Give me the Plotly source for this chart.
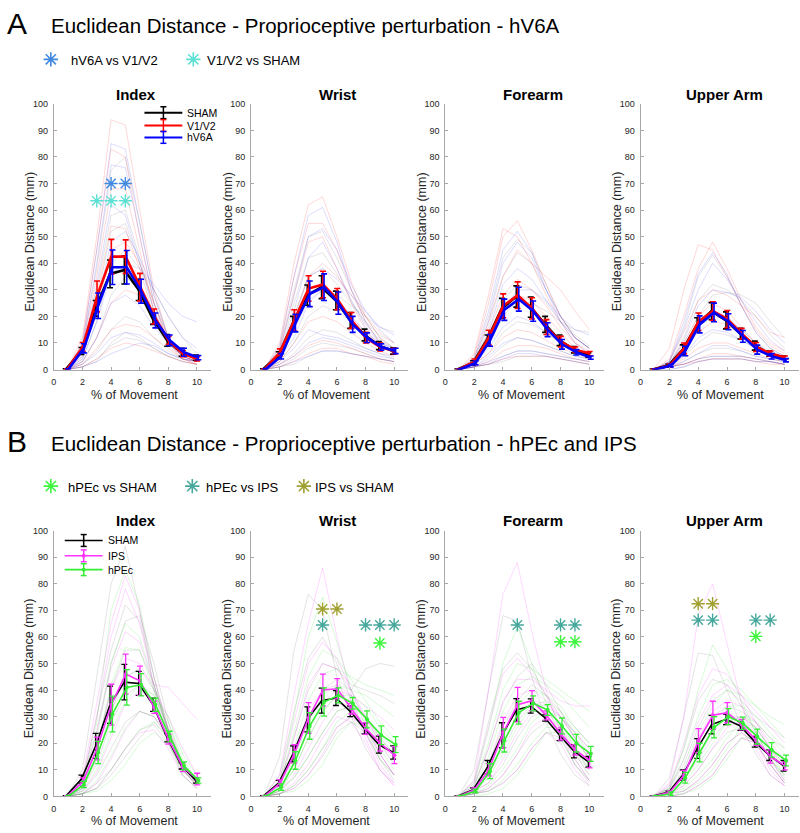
import plotly.graph_objects as go

W, H = 800, 833


def px(x):
    return x / W


def py(y):
    return 1 - y / H


# ---------------- data ----------------
x_pct = [0.9, 2, 3, 4, 5, 6, 7, 8, 9, 10]
x_tickvals = [0, 2, 4, 6, 8, 10]
y_tickvals = [0, 10, 20, 30, 40, 50, 60, 70, 80, 90, 100]
segments = ["Index", "Wrist", "Forearm", "Upper Arm"]
groups_A = ["SHAM", "V1/V2", "hV6A"]
groups_B = ["SHAM", "IPS", "hPEc"]

# ---- Panel A means / SEM ----
A_index_sham_mean = [0, 7, 23, 36, 37.5, 30, 19, 11, 6.5, 4.5]
A_index_sham_sem = [0.3, 1.3, 3, 5.2, 5.3, 4, 2, 2.2, 1.5, 1]
A_index_v1v2_mean = [0, 8.5, 27.5, 42.5, 42.5, 31, 20, 11, 6, 4]
A_index_v1v2_sem = [0.3, 1.7, 5.8, 6.5, 6.3, 5.2, 2.8, 1.5, 1.2, 0.8]
A_index_hv6a_mean = [0, 8, 24, 38.5, 38.5, 29.5, 18.5, 11, 6.5, 4.5]
A_index_hv6a_sem = [0.3, 1.7, 4.8, 6.5, 6.3, 4.5, 2.8, 2, 1.5, 0.8]

A_wrist_sham_mean = [0, 5.5, 17.5, 28, 31, 26, 18.5, 13, 9, 7]
A_wrist_sham_sem = [0.3, 1.2, 2.5, 3.8, 4.3, 3.5, 3, 2.2, 1.5, 1.2]
A_wrist_v1v2_mean = [0, 6.5, 18.5, 30.5, 32, 26.5, 18.5, 12, 8.5, 7]
A_wrist_v1v2_sem = [0.3, 1.3, 4, 4.8, 5, 4, 3, 2, 1.5, 1]
A_wrist_hv6a_mean = [0, 5, 17.5, 28.5, 31, 25, 17, 12, 8.5, 7]
A_wrist_hv6a_sem = [0.3, 1, 3.3, 4.8, 5, 4.2, 3, 1.8, 1.2, 1]

A_forearm_sham_mean = [0, 2.5, 11.5, 23, 27.5, 23.5, 17, 11, 7.5, 5.5]
A_forearm_sham_sem = [0.2, 0.8, 1.5, 3.8, 4, 3.8, 3, 2, 1.2, 0.8]
A_forearm_v1v2_mean = [0, 3, 12, 24, 28, 23, 16, 10.5, 7.5, 6]
A_forearm_v1v2_sem = [0.2, 1, 2.8, 4.5, 5, 4, 2.8, 2, 1, 0.8]
A_forearm_hv6a_mean = [0, 2.5, 11, 22.5, 26.5, 22, 15, 9.5, 6.5, 4.5]
A_forearm_hv6a_sem = [0.2, 0.7, 2.2, 4, 4.5, 3.8, 2.6, 1.8, 1, 0.6]

A_upper_sham_mean = [0, 1.5, 7.5, 17, 22, 18.5, 13.5, 9, 6, 4.5]
A_upper_sham_sem = [0.2, 0.5, 1.8, 2.5, 3.2, 3.2, 2, 1.7, 1, 0.6]
A_upper_v1v2_mean = [0, 1.5, 8, 18, 22, 19, 13.5, 8.5, 6, 4.5]
A_upper_v1v2_sem = [0.2, 0.6, 2, 3.3, 3.5, 3.2, 2, 1.7, 1, 0.6]
A_upper_hv6a_mean = [0, 1.5, 7, 17, 21.5, 18, 12.5, 7.5, 5, 3.5]
A_upper_hv6a_sem = [0.2, 0.5, 1.8, 3.2, 3.5, 3, 2.2, 1.7, 1, 0.6]

# ---- Panel B means / SEM ----
B_index_sham_mean = [0, 6.5, 19, 34.5, 43, 42.5, 34.5, 22, 11.5, 6]
B_index_sham_sem = [0.3, 1.5, 4.7, 7, 6.7, 4.5, 2.5, 1.5, 1.2, 1]
B_index_ips_mean = [0, 5.5, 18, 34.5, 46, 43.5, 33.5, 21.5, 11, 6.5]
B_index_ips_sem = [0.3, 1.5, 4.3, 7.7, 7.5, 5.5, 2.3, 1.8, 1.7, 2.2]
B_index_hpec_mean = [0, 4.5, 16.5, 31, 41, 42, 34.5, 22.5, 11.5, 6]
B_index_hpec_sem = [0.3, 1.2, 4.2, 6.7, 6.7, 4.2, 2.5, 2, 1.5, 1]

B_wrist_sham_mean = [0, 5, 16, 29, 36, 37, 32, 25.5, 19.5, 16.5]
B_wrist_sham_sem = [0.3, 1, 3, 4.7, 4.7, 2.8, 2, 2, 3.2, 2.5]
B_wrist_ips_mean = [0, 5, 16, 29.5, 40, 40.5, 33, 25.5, 20, 15.5]
B_wrist_ips_sem = [0.3, 1.2, 3.5, 5.8, 6, 3.8, 2, 2.2, 3, 3.2]
B_wrist_hpec_mean = [0, 3.5, 13.5, 26.5, 35.5, 38, 35, 29, 23, 19.5]
B_wrist_hpec_sem = [0.3, 1.2, 3.3, 5, 5.3, 2.8, 2.2, 3.2, 3.5, 3]

B_forearm_sham_mean = [0, 2.5, 11, 23, 32.5, 34, 29.5, 23, 17, 13]
B_forearm_sham_sem = [0.2, 0.7, 2.5, 4.7, 4.3, 2.7, 1.2, 2, 2.5, 2]
B_forearm_ips_mean = [0, 2.5, 10, 24, 34.5, 36, 30.5, 23.5, 17.5, 13.5]
B_forearm_ips_sem = [0.2, 0.7, 2.3, 5.7, 6.5, 3.8, 1.7, 2.3, 2, 2.8]
B_forearm_hpec_mean = [0, 2, 9.5, 21, 31.5, 35, 32.5, 26.5, 20, 16]
B_forearm_hpec_sem = [0.2, 0.7, 2.8, 4.3, 4.3, 2.8, 2, 3, 3.3, 2.8]

B_upper_sham_mean = [0, 1.5, 8, 18, 27, 29, 26.5, 20.5, 15.5, 11.5]
B_upper_sham_sem = [0.2, 0.5, 2, 3.7, 3.5, 2, 1.7, 2, 2, 2]
B_upper_ips_mean = [0, 1.5, 8, 21, 30.5, 31.5, 27, 21, 15, 11.5]
B_upper_ips_sem = [0.2, 0.5, 1.8, 4.5, 5.3, 3.8, 2, 1.8, 2.5, 1.5]
B_upper_hpec_mean = [0, 1, 7, 16.5, 26, 30, 27.5, 22.5, 17.5, 13.5]
B_upper_hpec_sem = [0.2, 0.7, 2, 3.5, 4, 3, 2.3, 2.8, 2.7, 2]

# ---- individual participants (faint lines) ----
A_index_sham_subj = [
    [0, 9, 38, 75, 80, 55, 28, 12, 6, 4], [0, 7, 30, 58, 60, 42, 22, 10, 5, 3],
    [0, 6, 26, 52, 55, 40, 25, 12, 6, 4], [0, 4, 18, 40, 45, 38, 30, 20, 12, 6],
    [0, 3, 12, 28, 35, 30, 20, 12, 7, 4], [0, 2, 7, 15, 20, 18, 12, 7, 4, 3],
    [0, 1, 4, 9, 12, 11, 8, 5, 3, 2], [0, 1, 3, 10, 14, 12, 8, 5, 3, 2]]
A_index_v1v2_subj = [
    [0, 12, 50, 94, 92, 60, 30, 12, 5, 3], [0, 10, 45, 83, 80, 50, 25, 10, 4, 2],
    [0, 8, 35, 68, 68, 45, 22, 10, 5, 3], [0, 6, 28, 54, 53, 38, 20, 9, 4, 3],
    [0, 5, 22, 45, 48, 40, 25, 12, 6, 4], [0, 3, 12, 25, 30, 28, 20, 10, 5, 3],
    [0, 2, 8, 15, 17, 16, 12, 8, 4, 2], [0, 1, 4, 8, 10, 9, 7, 5, 3, 2]]
A_index_hv6a_subj = [
    [0, 10, 45, 85, 83, 55, 28, 12, 6, 4], [0, 8, 40, 77, 76, 50, 25, 10, 5, 3],
    [0, 7, 32, 62, 58, 40, 22, 10, 5, 3], [0, 5, 24, 48, 52, 42, 30, 20, 12, 8],
    [0, 4, 18, 36, 40, 38, 32, 25, 20, 18], [0, 3, 12, 25, 28, 24, 16, 10, 6, 4],
    [0, 2, 6, 12, 14, 13, 10, 6, 4, 3], [0, 1, 3, 6, 8, 10, 9, 6, 4, 3]]

A_wrist_sham_subj = [
    [0, 8, 30, 50, 52, 42, 30, 20, 12, 8], [0, 6, 25, 42, 44, 36, 26, 17, 11, 8],
    [0, 5, 20, 35, 38, 32, 25, 18, 13, 10], [0, 4, 15, 26, 30, 28, 24, 20, 16, 14],
    [0, 3, 10, 20, 24, 22, 18, 13, 9, 7], [0, 2, 6, 12, 15, 14, 11, 8, 6, 4],
    [0, 1, 4, 8, 10, 9, 8, 6, 4, 3], [0, 1, 2, 5, 7, 7, 6, 5, 4, 3]]
A_wrist_v1v2_subj = [
    [0, 10, 40, 62, 65, 50, 33, 20, 12, 8], [0, 8, 35, 55, 55, 45, 30, 18, 10, 6],
    [0, 7, 28, 48, 50, 38, 25, 15, 9, 6], [0, 5, 20, 35, 40, 35, 28, 20, 14, 10],
    [0, 4, 15, 28, 30, 26, 20, 14, 9, 7], [0, 3, 10, 18, 20, 18, 14, 10, 7, 5],
    [0, 2, 5, 9, 11, 10, 8, 6, 4, 3], [0, 1, 3, 6, 8, 8, 6, 5, 3, 2]]
A_wrist_hv6a_subj = [
    [0, 9, 35, 58, 61, 48, 30, 18, 10, 7], [0, 7, 28, 50, 53, 45, 32, 22, 15, 10],
    [0, 6, 22, 42, 48, 38, 26, 16, 10, 8], [0, 5, 18, 35, 38, 34, 28, 22, 16, 13],
    [0, 4, 12, 25, 30, 27, 20, 14, 10, 8], [0, 3, 8, 15, 13, 12, 10, 8, 6, 5],
    [0, 2, 5, 10, 12, 11, 9, 7, 5, 4], [0, 1, 3, 5, 7, 7, 6, 5, 4, 3]]

A_forearm_sham_subj = [
    [0, 4, 20, 42, 49, 44, 32, 20, 12, 8], [0, 3, 16, 35, 44, 40, 30, 20, 13, 9],
    [0, 3, 12, 26, 32, 30, 25, 18, 12, 8], [0, 2, 9, 20, 26, 25, 22, 18, 15, 14],
    [0, 2, 6, 14, 18, 17, 14, 10, 7, 5], [0, 1, 4, 9, 12, 11, 9, 7, 5, 4],
    [0, 1, 2, 5, 7, 7, 6, 5, 4, 3], [0, 1, 2, 3, 5, 5, 5, 4, 3, 2]]
A_forearm_v1v2_subj = [
    [0, 5, 25, 50, 56, 45, 32, 20, 12, 8], [0, 6, 28, 53, 50, 40, 28, 18, 10, 6],
    [0, 4, 18, 35, 45, 40, 35, 30, 22, 15], [0, 3, 14, 28, 34, 30, 24, 16, 10, 7],
    [0, 2, 10, 22, 28, 26, 20, 14, 8, 6], [0, 2, 6, 12, 15, 14, 11, 8, 6, 4],
    [0, 1, 3, 7, 9, 9, 8, 6, 4, 3], [0, 1, 2, 4, 5, 5, 5, 4, 3, 2]]
A_forearm_hv6a_subj = [
    [0, 4, 22, 45, 52, 44, 30, 18, 10, 6], [0, 3, 18, 40, 48, 42, 30, 20, 12, 8],
    [0, 3, 14, 32, 38, 34, 26, 18, 12, 8], [0, 2, 10, 22, 30, 30, 26, 20, 15, 13],
    [0, 2, 8, 16, 20, 18, 14, 10, 7, 5], [0, 1, 5, 10, 12, 11, 9, 7, 5, 4],
    [0, 1, 3, 5, 7, 7, 6, 5, 4, 3], [0, 1, 2, 4, 6, 6, 5, 4, 3, 2]]

A_upper_sham_subj = [
    [0, 3, 16, 35, 43, 35, 24, 14, 8, 5], [0, 2, 12, 26, 32, 30, 26, 20, 13, 8],
    [0, 2, 10, 20, 28, 29, 28, 25, 18, 12], [0, 2, 8, 16, 20, 19, 15, 10, 7, 5],
    [0, 1, 5, 10, 14, 13, 11, 8, 5, 4], [0, 1, 3, 6, 8, 8, 7, 5, 4, 3],
    [0, 1, 2, 4, 5, 5, 5, 4, 3, 2], [0, 0, 1, 3, 4, 4, 4, 3, 3, 2]]
A_upper_v1v2_subj = [
    [0, 8, 30, 47, 45, 35, 24, 15, 9, 6], [0, 4, 20, 38, 48, 38, 26, 16, 10, 7],
    [0, 3, 14, 26, 30, 28, 24, 20, 14, 12], [0, 2, 10, 20, 25, 22, 16, 10, 6, 4],
    [0, 2, 7, 14, 18, 17, 13, 9, 6, 4], [0, 1, 4, 8, 10, 10, 8, 6, 4, 3],
    [0, 1, 2, 4, 6, 6, 5, 4, 3, 2], [0, 1, 2, 3, 4, 4, 4, 3, 2, 2]]
A_upper_hv6a_subj = [
    [0, 3, 18, 36, 44, 36, 24, 14, 8, 5], [0, 3, 15, 30, 40, 34, 26, 18, 11, 7],
    [0, 2, 11, 24, 30, 29, 27, 22, 15, 10], [0, 2, 8, 17, 22, 20, 15, 10, 6, 4],
    [0, 1, 5, 12, 15, 14, 11, 8, 5, 4], [0, 1, 3, 6, 9, 9, 7, 5, 4, 3],
    [0, 1, 2, 4, 5, 5, 5, 4, 3, 2], [0, 0, 1, 3, 4, 4, 4, 3, 3, 2]]

B_index_sham_subj = [
    [0, 10, 45, 80, 94, 70, 40, 20, 8, 3], [0, 6, 30, 55, 72, 66, 45, 25, 10, 4],
    [0, 5, 25, 50, 66, 68, 50, 28, 12, 5], [0, 4, 18, 40, 55, 55, 42, 25, 11, 5],
    [0, 3, 12, 28, 38, 42, 38, 26, 12, 5], [0, 2, 8, 18, 28, 32, 30, 22, 12, 6],
    [0, 1, 5, 10, 18, 25, 27, 20, 10, 5], [0, 1, 3, 8, 15, 22, 28, 22, 12, 6]]
B_index_ips_subj = [
    [0, 7, 35, 65, 83, 70, 45, 25, 10, 4], [0, 6, 30, 60, 78, 65, 42, 22, 10, 5],
    [0, 5, 24, 48, 62, 58, 42, 25, 12, 5], [0, 4, 18, 40, 52, 50, 40, 30, 18, 8],
    [0, 3, 14, 32, 45, 48, 42, 41, 35, 29], [0, 2, 9, 22, 35, 40, 36, 25, 12, 5],
    [0, 1, 5, 14, 25, 32, 30, 22, 10, 4], [0, 1, 3, 10, 18, 24, 25, 18, 8, 3]]
B_index_hpec_subj = [
    [0, 5, 28, 70, 85, 72, 45, 22, 8, 3], [0, 4, 22, 50, 65, 60, 42, 24, 10, 4],
    [0, 3, 18, 42, 56, 55, 40, 25, 12, 5], [0, 3, 14, 32, 45, 48, 40, 28, 14, 6],
    [0, 2, 10, 24, 36, 42, 38, 30, 16, 8], [0, 1, 6, 15, 26, 32, 30, 24, 12, 6],
    [0, 1, 3, 10, 18, 25, 28, 22, 12, 5], [0, 1, 2, 6, 12, 20, 24, 20, 10, 5]]

B_wrist_sham_subj = [
    [0, 15, 55, 76, 70, 45, 30, 18, 10, 5], [0, 8, 32, 52, 60, 50, 36, 24, 14, 8],
    [0, 5, 22, 40, 50, 48, 42, 40, 38, 35], [0, 4, 15, 30, 40, 44, 40, 48, 50, 49],
    [0, 3, 10, 22, 32, 38, 36, 30, 22, 16], [0, 2, 7, 15, 24, 32, 34, 30, 24, 18],
    [0, 1, 4, 10, 18, 26, 30, 26, 16, 8], [0, 1, 3, 8, 15, 24, 28, 24, 14, 6]]
B_wrist_ips_subj = [
    [0, 8, 38, 65, 86, 60, 38, 22, 10, 4], [0, 6, 28, 50, 58, 52, 40, 28, 16, 8],
    [0, 5, 22, 42, 50, 48, 40, 30, 20, 12], [0, 4, 16, 32, 40, 42, 38, 34, 30, 25],
    [0, 3, 12, 25, 35, 40, 38, 30, 20, 14], [0, 2, 8, 18, 28, 35, 34, 26, 16, 8],
    [0, 1, 5, 12, 22, 30, 28, 20, 10, 4], [0, 1, 3, 8, 16, 26, 30, 24, 12, 5]]
B_wrist_hpec_subj = [
    [0, 6, 30, 60, 75, 58, 40, 26, 14, 8], [0, 5, 24, 45, 55, 52, 44, 36, 28, 22],
    [0, 4, 18, 36, 46, 48, 45, 42, 40, 38], [0, 3, 14, 28, 38, 42, 40, 38, 34, 30],
    [0, 2, 10, 22, 32, 38, 38, 34, 26, 20], [0, 2, 7, 15, 24, 32, 34, 30, 22, 16],
    [0, 1, 4, 10, 18, 28, 32, 28, 20, 12], [0, 1, 2, 6, 12, 22, 28, 26, 18, 10]]

B_forearm_sham_subj = [
    [0, 10, 40, 68, 66, 45, 28, 16, 8, 4], [0, 6, 28, 48, 54, 48, 38, 26, 16, 10],
    [0, 4, 18, 35, 45, 50, 42, 32, 22, 14], [0, 3, 12, 26, 36, 42, 38, 32, 26, 20],
    [0, 2, 8, 18, 28, 35, 34, 30, 24, 18], [0, 2, 5, 12, 22, 30, 32, 28, 18, 10],
    [0, 1, 3, 8, 16, 24, 28, 24, 14, 6], [0, 1, 2, 5, 10, 18, 24, 22, 12, 5]]
B_forearm_ips_subj = [
    [0, 6, 40, 76, 88, 62, 40, 24, 12, 6], [0, 5, 26, 46, 52, 46, 38, 30, 22, 16],
    [0, 4, 18, 36, 44, 44, 40, 36, 34, 34], [0, 3, 12, 28, 38, 40, 36, 30, 24, 18],
    [0, 2, 8, 20, 30, 36, 35, 30, 22, 14], [0, 2, 5, 14, 24, 32, 32, 26, 16, 8],
    [0, 1, 3, 8, 16, 26, 30, 26, 14, 6], [0, 1, 2, 5, 10, 18, 24, 20, 10, 4]]
B_forearm_hpec_subj = [
    [0, 5, 25, 50, 64, 50, 35, 22, 12, 6], [0, 4, 20, 40, 50, 48, 44, 40, 36, 32],
    [0, 3, 15, 32, 42, 45, 42, 38, 32, 26], [0, 2, 10, 24, 34, 40, 38, 34, 26, 20],
    [0, 2, 7, 16, 26, 34, 36, 32, 24, 16], [0, 1, 4, 10, 18, 28, 32, 30, 22, 14],
    [0, 1, 2, 6, 12, 20, 26, 26, 18, 10], [0, 0, 1, 3, 8, 16, 24, 24, 16, 8]]

B_upper_sham_subj = [
    [0, 7, 30, 54, 53, 40, 26, 16, 8, 4], [0, 4, 18, 36, 44, 42, 34, 24, 14, 8],
    [0, 3, 12, 26, 36, 40, 36, 30, 26, 22], [0, 2, 9, 20, 30, 34, 32, 28, 22, 18],
    [0, 2, 6, 14, 22, 28, 30, 26, 18, 12], [0, 1, 4, 10, 18, 24, 26, 22, 14, 6],
    [0, 1, 2, 6, 12, 20, 24, 20, 12, 5], [0, 0, 1, 4, 8, 16, 22, 20, 12, 5]]
B_upper_ips_subj = [
    [0, 5, 30, 68, 80, 58, 35, 18, 8, 4], [0, 4, 20, 38, 48, 46, 38, 28, 18, 12],
    [0, 3, 14, 28, 38, 42, 38, 32, 26, 20], [0, 2, 10, 22, 32, 36, 34, 28, 20, 14],
    [0, 2, 6, 15, 24, 30, 30, 26, 18, 10], [0, 1, 4, 10, 18, 26, 28, 24, 14, 6],
    [0, 1, 2, 6, 12, 20, 24, 20, 10, 4], [0, 0, 1, 4, 8, 16, 22, 20, 12, 5]]
B_upper_hpec_subj = [
    [0, 3, 18, 40, 57, 48, 36, 24, 14, 8], [0, 3, 14, 30, 42, 44, 40, 34, 30, 27],
    [0, 2, 10, 24, 34, 40, 38, 34, 28, 22], [0, 2, 8, 18, 28, 34, 34, 30, 24, 18],
    [0, 1, 5, 12, 20, 28, 30, 28, 22, 16], [0, 1, 3, 8, 14, 22, 28, 26, 18, 10],
    [0, 0, 2, 5, 10, 18, 26, 24, 16, 8], [0, 0, 1, 3, 7, 14, 22, 22, 14, 7]]

# ---- significance markers (x positions, y level) ----
A_index_sig_hv6a_v1v2_x = [4, 5]
A_index_sig_hv6a_v1v2_y = 70
A_index_sig_v1v2_sham_x = [3, 4, 5]
A_index_sig_v1v2_sham_y = 63.5

B_wrist_sig_ips_sham_x = [5, 6]
B_wrist_sig_ips_sham_y = 70.5
B_wrist_sig_hpec_ips_x = [5, 8, 9, 10]
B_wrist_sig_hpec_ips_y = 64.5
B_wrist_sig_hpec_sham_x = [9]
B_wrist_sig_hpec_sham_y = 57.7

B_forearm_sig_hpec_ips_x = [5, 8, 9]
B_forearm_sig_hpec_ips_y = 64.5
B_forearm_sig_hpec_sham_x = [8, 9]
B_forearm_sig_hpec_sham_y = 58.2

B_upper_sig_ips_sham_x = [4, 5]
B_upper_sig_ips_sham_y = 72.5
B_upper_sig_hpec_ips_x = [4, 5, 8, 9]
B_upper_sig_hpec_ips_y = 66.3
B_upper_sig_hpec_sham_x = [8]
B_upper_sig_hpec_sham_y = 60.2

# ---------------- styles ----------------
COL_A = {"SHAM": "#000000", "V1/V2": "#ff0000", "hV6A": "#0000ff"}
FAINT_A = {"SHAM": "rgba(40,40,60,0.16)", "V1/V2": "rgba(255,0,0,0.2)", "hV6A": "rgba(0,0,255,0.18)"}
COL_B = {"SHAM": "#000000", "IPS": "#ff33ff", "hPEc": "#33ee33"}
FAINT_B = {"SHAM": "rgba(40,40,40,0.16)", "IPS": "rgba(255,0,255,0.2)", "hPEc": "rgba(0,220,0,0.2)"}
SIG_COL = {
    "hV6A vs V1/V2": "#4189e0",
    "V1/V2 vs SHAM": "#5de0d4",
    "hPEc vs SHAM": "#3cf53c",
    "hPEc vs IPS": "#46a89c",
    "IPS vs SHAM": "#a0a030",
}
OFFS = [-0.07, 0.02, 0.1]
AXIS_COL = "#a8a8a8"
TXT_COL = "#262626"
FONT = "Liberation Sans, Arial, sans-serif"

cols_px = [(51, 209), (249, 407), (444, 603), (640, 799)]
rows_px = [(100, 369), (532, 801)]

panels = []
for r, (row, groups, colmap, faintmap) in enumerate([
    ("A", groups_A, COL_A, FAINT_A), ("B", groups_B, COL_B, FAINT_B)]):
    for c, seg in enumerate(segments):
        panels.append((r, c, seg, groups, colmap, faintmap))

data_A = {
    "Index": [(A_index_sham_mean, A_index_sham_sem, A_index_sham_subj),
              (A_index_v1v2_mean, A_index_v1v2_sem, A_index_v1v2_subj),
              (A_index_hv6a_mean, A_index_hv6a_sem, A_index_hv6a_subj)],
    "Wrist": [(A_wrist_sham_mean, A_wrist_sham_sem, A_wrist_sham_subj),
              (A_wrist_v1v2_mean, A_wrist_v1v2_sem, A_wrist_v1v2_subj),
              (A_wrist_hv6a_mean, A_wrist_hv6a_sem, A_wrist_hv6a_subj)],
    "Forearm": [(A_forearm_sham_mean, A_forearm_sham_sem, A_forearm_sham_subj),
                (A_forearm_v1v2_mean, A_forearm_v1v2_sem, A_forearm_v1v2_subj),
                (A_forearm_hv6a_mean, A_forearm_hv6a_sem, A_forearm_hv6a_subj)],
    "Upper Arm": [(A_upper_sham_mean, A_upper_sham_sem, A_upper_sham_subj),
                  (A_upper_v1v2_mean, A_upper_v1v2_sem, A_upper_v1v2_subj),
                  (A_upper_hv6a_mean, A_upper_hv6a_sem, A_upper_hv6a_subj)],
}
data_B = {
    "Index": [(B_index_sham_mean, B_index_sham_sem, B_index_sham_subj),
              (B_index_ips_mean, B_index_ips_sem, B_index_ips_subj),
              (B_index_hpec_mean, B_index_hpec_sem, B_index_hpec_subj)],
    "Wrist": [(B_wrist_sham_mean, B_wrist_sham_sem, B_wrist_sham_subj),
              (B_wrist_ips_mean, B_wrist_ips_sem, B_wrist_ips_subj),
              (B_wrist_hpec_mean, B_wrist_hpec_sem, B_wrist_hpec_subj)],
    "Forearm": [(B_forearm_sham_mean, B_forearm_sham_sem, B_forearm_sham_subj),
                (B_forearm_ips_mean, B_forearm_ips_sem, B_forearm_ips_subj),
                (B_forearm_hpec_mean, B_forearm_hpec_sem, B_forearm_hpec_subj)],
    "Upper Arm": [(B_upper_sham_mean, B_upper_sham_sem, B_upper_sham_subj),
                  (B_upper_ips_mean, B_upper_ips_sem, B_upper_ips_subj),
                  (B_upper_hpec_mean, B_upper_hpec_sem, B_upper_hpec_subj)],
}
sig_A = {"Index": [("hV6A vs V1/V2", A_index_sig_hv6a_v1v2_x, A_index_sig_hv6a_v1v2_y),
                   ("V1/V2 vs SHAM", A_index_sig_v1v2_sham_x, A_index_sig_v1v2_sham_y)]}
sig_B = {
    "Wrist": [("IPS vs SHAM", B_wrist_sig_ips_sham_x, B_wrist_sig_ips_sham_y),
              ("hPEc vs IPS", B_wrist_sig_hpec_ips_x, B_wrist_sig_hpec_ips_y),
              ("hPEc vs SHAM", B_wrist_sig_hpec_sham_x, B_wrist_sig_hpec_sham_y)],
    "Forearm": [("hPEc vs IPS", B_forearm_sig_hpec_ips_x, B_forearm_sig_hpec_ips_y),
                ("hPEc vs SHAM", B_forearm_sig_hpec_sham_x, B_forearm_sig_hpec_sham_y)],
    "Upper Arm": [("IPS vs SHAM", B_upper_sig_ips_sham_x, B_upper_sig_ips_sham_y),
                  ("hPEc vs IPS", B_upper_sig_hpec_ips_x, B_upper_sig_hpec_ips_y),
                  ("hPEc vs SHAM", B_upper_sig_hpec_sham_x, B_upper_sig_hpec_sham_y)],
}

fig = go.Figure()
layout = dict(
    width=W, height=H, margin=dict(l=0, r=0, t=0, b=0),
    paper_bgcolor="white", plot_bgcolor="rgba(0,0,0,0)", showlegend=False,
    font=dict(family=FONT, color=TXT_COL),
)
annotations = []
shapes = []

for k, (r, c, seg, groups, colmap, faintmap) in enumerate(panels, start=1):
    xa = "x" if k == 1 else f"x{k}"
    ya = "y" if k == 1 else f"y{k}"
    x0, x1 = cols_px[c]
    yt, yb = rows_px[r]
    common = dict(showgrid=False, zeroline=False, showline=True, linecolor=AXIS_COL,
                  linewidth=1, ticks="inside", ticklen=3, tickcolor=AXIS_COL,
                  tickfont=dict(size=9, color=TXT_COL, family=FONT), mirror=False)
    layout["xaxis" if k == 1 else f"xaxis{k}"] = dict(
        domain=[px(x0), px(x1)], range=[0, 11], tickvals=x_tickvals,
        anchor=ya, ticklabelstandoff=4, **common)
    layout["yaxis" if k == 1 else f"yaxis{k}"] = dict(
        domain=[py(yb), py(yt)], range=[0, 100], tickvals=y_tickvals,
        anchor=xa, ticklabelstandoff=3, **common)

    dset = (data_A if r == 0 else data_B)[seg]
    # faint individual lines
    for g, (mean, sem, subj) in zip(groups, dset):
        xs, ys = [], []
        for s in subj:
            xs += x_pct + [None]
            ys += s + [None]
        fig.add_trace(go.Scatter(x=xs, y=ys, xaxis=xa, yaxis=ya, mode="lines",
                                 line=dict(color=faintmap[g], width=0.8),
                                 hoverinfo="skip"))
    # means with error bars
    for gi, (g, (mean, sem, subj)) in enumerate(zip(groups, dset)):
        col = colmap[g]
        lw = 2.6 if r == 0 else 1.6
        mode = "lines" if (r == 0 or g == "SHAM") else "lines+markers"
        fig.add_trace(go.Scatter(
            x=[v + OFFS[gi] for v in x_pct], y=mean, xaxis=xa, yaxis=ya, mode=mode,
            line=dict(color=col, width=lw), marker=dict(size=4, color=col),
            error_y=dict(type="data", array=sem, color=col,
                         thickness=1.6 if r == 0 else 1.3, width=3),
            name=g))
    # significance asterisks
    sigs = (sig_A if r == 0 else sig_B).get(seg, [])
    for label, sx, sy in sigs:
        fig.add_trace(go.Scatter(
            x=sx, y=[sy] * len(sx), xaxis=xa, yaxis=ya, mode="markers",
            marker=dict(symbol="asterisk-open", size=11, color=SIG_COL[label],
                        line=dict(color=SIG_COL[label], width=1.4)),
            hoverinfo="skip"))

    # subplot title, axis labels
    title_cx = {0: 133, 1: 336, 2: 532, 3: 724}[c]
    title_cy = 91 if r == 0 else 522
    annotations.append(dict(text=f"<b>{seg}</b>", x=px(title_cx), y=py(title_cy),
                            xref="paper", yref="paper", showarrow=False,
                            xanchor="center", yanchor="middle",
                            font=dict(size=15, color="#000000", family=FONT)))
    xl_cx = {0: 131.5, 1: 325, 2: 520.5, 3: 720}[c]
    xl_cy = 395 if r == 0 else 826
    annotations.append(dict(text="% of Movement", x=px(xl_cx), y=py(xl_cy),
                            xref="paper", yref="paper", showarrow=False,
                            xanchor="center", yanchor="middle",
                            font=dict(size=12.5, color=TXT_COL, family=FONT)))
    yl_cx = x0 - 24
    yl_cy = (yt + yb) / 2 + 5
    annotations.append(dict(text="Euclidean Distance (mm)", x=px(yl_cx), y=py(yl_cy),
                            xref="paper", yref="paper", showarrow=False, textangle=-90,
                            xanchor="center", yanchor="middle",
                            font=dict(size=12.5, color=TXT_COL, family=FONT)))

# ---- overlay axis for legend keys (pixel coordinates of the page) ----
layout["xaxis9"] = dict(domain=[0, 1], range=[0, W], visible=False, fixedrange=True, anchor="y9")
layout["yaxis9"] = dict(domain=[0, 1], range=[H, 0], visible=False, fixedrange=True, anchor="x9")

# panel headers
for letter, title, cy in [("A", "Euclidean Distance - Proprioceptive perturbation - hV6A", 19),
                          ("B", "Euclidean Distance - Proprioceptive perturbation - hPEc and IPS", 442)]:
    annotations.append(dict(text=letter, x=px(2), y=py(cy), xref="paper", yref="paper",
                            showarrow=False, xanchor="left", yanchor="middle",
                            font=dict(size=30, color="#000000", family=FONT)))
    annotations.append(dict(text=title, x=px(46), y=py(cy + 2), xref="paper", yref="paper",
                            showarrow=False, xanchor="left", yanchor="middle",
                            font=dict(size=20.5, color="#000000", family=FONT)))

# significance legends
sig_leg = [("hV6A vs V1/V2", 48, 66, 55), ("V1/V2 vs SHAM", 191, 203, 55),
           ("hPEc vs SHAM", 48, 63, 487), ("hPEc vs IPS", 190, 202, 487),
           ("IPS vs SHAM", 302, 311, 487)]
for label, ax_, tx, cy in sig_leg:
    fig.add_trace(go.Scatter(x=[ax_], y=[cy], xaxis="x9", yaxis="y9", mode="markers",
                             marker=dict(symbol="asterisk-open", size=12, color=SIG_COL[label],
                                         line=dict(color=SIG_COL[label], width=1.6)),
                             hoverinfo="skip"))
    annotations.append(dict(text=label, x=px(tx), y=py(cy + 1), xref="paper", yref="paper",
                            showarrow=False, xanchor="left", yanchor="middle",
                            font=dict(size=13, color="#000000", family=FONT)))

# group legends (line + error-bar key) inside Index axes
group_leg = [(groups_A, COL_A, 142, 180, [109, 122, 134], False),
             (groups_B, COL_B, 62, 100, [542, 557.5, 571.5], True)]
for groups, colmap, lx0, lx1, ys, dots in group_leg:
    cx = (lx0 + lx1) / 2
    for g, yy in zip(groups, ys):
        col = colmap[g]
        lw = 2 if not dots else 1.6
        shapes.append(dict(type="line", xref="paper", yref="paper", x0=px(lx0), x1=px(lx1),
                           y0=py(yy), y1=py(yy), line=dict(color=col, width=lw)))
        shapes.append(dict(type="line", xref="paper", yref="paper", x0=px(cx), x1=px(cx),
                           y0=py(yy - 6), y1=py(yy + 6), line=dict(color=col, width=1.5)))
        for capy in (yy - 6, yy + 6):
            shapes.append(dict(type="line", xref="paper", yref="paper", x0=px(cx - 3),
                               x1=px(cx + 3), y0=py(capy), y1=py(capy),
                               line=dict(color=col, width=1.5)))
        if dots and g != "SHAM":
            shapes.append(dict(type="circle", xref="paper", yref="paper", x0=px(cx - 2),
                               x1=px(cx + 2), y0=py(yy - 2), y1=py(yy + 2),
                               fillcolor=col, line=dict(color=col, width=0)))
        annotations.append(dict(text=g, x=px(lx1 + 3), y=py(yy), xref="paper", yref="paper",
                                showarrow=False, xanchor="left", yanchor="middle",
                                font=dict(size=10.5, color="#000000", family=FONT)))

layout["annotations"] = annotations
layout["shapes"] = shapes
fig.update_layout(**layout)
fig.write_html("out.html")
